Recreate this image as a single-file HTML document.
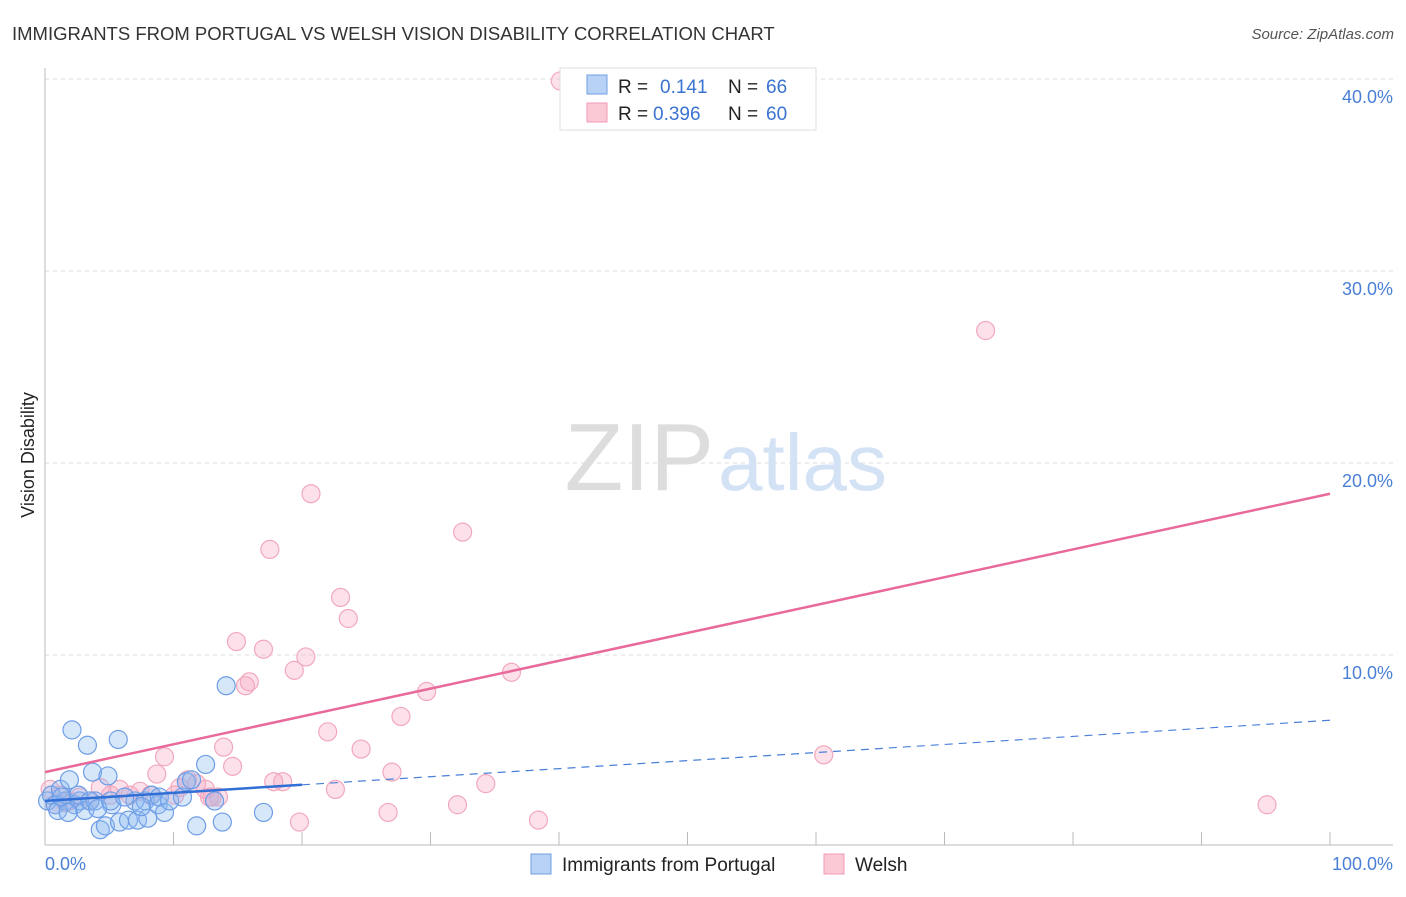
<!DOCTYPE html>
<html><head><meta charset="utf-8"><style>
body{margin:0;background:#fff;font-family:"Liberation Sans",sans-serif;}
svg text{font-family:"Liberation Sans",sans-serif;}
</style></head><body>
<svg width="1406" height="892" xmlns="http://www.w3.org/2000/svg">
<text x="12" y="40" font-size="18.5" fill="#333">IMMIGRANTS FROM PORTUGAL VS WELSH VISION DISABILITY CORRELATION CHART</text>
<text x="1394" y="39" font-size="15" fill="#555" font-style="italic" text-anchor="end">Source: ZipAtlas.com</text>
<g id="grid"></g>
<text x="714" y="490" font-size="96" fill="#ddd" font-family="Liberation Serif" text-anchor="end">ZIP</text>
<text x="718" y="490" font-size="80" fill="#d4e2f5">atlas</text>
<g id="axes"></g>
<g id="pts"></g>
<g id="lines"></g>
<text transform="translate(34,455) rotate(-90)" font-size="18" fill="#222" text-anchor="middle">Vision Disability</text>
<text x="45" y="870" font-size="18" fill="#4a7fd6">0.0%</text>
<text x="1393" y="870" font-size="18" fill="#4a7fd6" text-anchor="end">100.0%</text>
<g>
<rect x="560" y="68" width="256" height="62" fill="#fff" stroke="#ddd"/>
<rect x="587" y="75" width="20" height="19" fill="#b8d2f6" stroke="#6f9fe3"/>
<rect x="587" y="103" width="20" height="19" fill="#fbc8d6" stroke="#f09ab4"/>
<text x="618" y="93" font-size="19" fill="#222">R = </text><text x="660" y="93" font-size="19" fill="#3a73d0">0.141</text>
<text x="728" y="93" font-size="19" fill="#222">N = </text><text x="766" y="93" font-size="19" fill="#3a73d0">66</text>
<text x="618" y="120" font-size="19" fill="#222">R = </text><text x="653" y="120" font-size="19" fill="#3a73d0">0.396</text>
<text x="728" y="120" font-size="19" fill="#222">N = </text><text x="766" y="120" font-size="19" fill="#3a73d0">60</text>
</g>
<g>
<rect x="531" y="854" width="20" height="20" fill="#b8d2f6" stroke="#6f9fe3"/>
<text x="562" y="871" font-size="19" fill="#222">Immigrants from Portugal</text>
<rect x="824" y="854" width="20" height="20" fill="#fbc8d6" stroke="#f09ab4"/>
<text x="855" y="871" font-size="19" fill="#222">Welsh</text>
</g>
</svg>
<script>
const blueX=[0.2,0.5,0.8,1.2,1.6,1.9,2.1,2.3,2.7,3.1,3.3,3.7,3.9,4.3,4.7,4.9,5.2,5.7,5.8,6.5,7.0,7.2,7.8,8.0,8.3,8.8,8.9,9.3,9.7,10.7,11.0,11.4,11.8,12.5,13.2,13.8,14.1,17.0,1.0,1.3,1.8,2.6,3.5,4.1,5.1,6.2,7.5];
const blueY=[2.4,2.7,2.2,3.0,2.4,3.5,6.1,2.2,2.4,1.9,5.3,3.9,2.4,0.9,1.1,3.7,2.2,5.6,1.3,1.4,2.4,1.4,2.4,1.5,2.7,2.2,2.6,1.8,2.4,2.6,3.4,3.5,1.1,4.3,2.4,1.3,8.4,1.8,1.9,2.6,1.8,2.7,2.4,2.0,2.4,2.6,2.1];
const pinkX=[40.1,73.2,20.7,32.5,17.5,23.0,23.6,14.9,17.0,20.3,19.4,36.3,15.9,15.6,29.7,27.7,22.0,13.9,9.3,24.6,60.6,14.6,27.0,8.7,34.3,17.8,18.5,22.6,32.1,95.1,26.7,19.8,38.4,13.0,13.5,11.8,11.1,5.8,6.6,7.4,4.3,5.1,1.2,1.9,0.4,2.7,3.5,8.2,10.1,10.5,12.5,12.8,0.8,1.6];
const pinkY=[39.9,26.9,18.4,16.4,15.5,13.0,11.9,10.7,10.3,9.9,9.2,9.1,8.6,8.4,8.1,6.8,6.0,5.2,4.7,5.1,4.8,4.2,3.9,3.8,3.3,3.4,3.4,3.0,2.2,2.2,1.8,1.3,1.4,2.6,2.6,3.3,3.5,3.0,2.7,2.9,3.1,2.7,2.7,2.4,3.0,2.6,2.4,2.7,2.7,3.1,3.0,2.6,2.2,2.3];
const yTicks=[10,20,30,40];
const yTickLabels=["10.0%","20.0%","30.0%","40.0%"];
const blueTrend=[2.4,0.042];
const pinkTrend=[3.9,0.145];
const NS="http://www.w3.org/2000/svg";
const X=v=>45+v*12.85, Y=v=>847-v*19.2;
function mk(t,a,p){const e=document.createElementNS(NS,t);for(const k in a)e.setAttribute(k,a[k]);p.appendChild(e);return e;}
const grid=document.getElementById('grid'),axes=document.getElementById('axes');
yTicks.forEach((t,i)=>{
 const l=mk('line',{x1:45,x2:1393,y1:Y(t),y2:Y(t),stroke:'#ddd','stroke-dasharray':'4,4'},grid);
 
 
 const tx=mk('text',{x:1393,y:Y(t)+24,'font-size':18,fill:'#4a7fd6','text-anchor':'end'},grid);
 tx.textContent=yTickLabels[i];
 
 
});
const ax=mk('line',{x1:45,x2:45,y1:68,y2:845,stroke:'#bbb'},axes);


const bx=mk('line',{x1:45,x2:1393,y1:845,y2:845,stroke:'#bbb'},axes);


for(let i=1;i<=10;i++){
 const t=mk('line',{x1:X(i*10),x2:X(i*10),y1:832,y2:845,stroke:'#bbb'},axes);
 
 
}
const pts=document.getElementById('pts');
pinkX.forEach((x,i)=>{
 const c=mk('circle',{cx:X(x),cy:Y(pinkY[i]),r:9,fill:'rgba(245,165,190,0.33)',stroke:'#f2a8bd','stroke-width':1.2},pts);
 
 
});
blueX.forEach((x,i)=>{
 const c=mk('circle',{cx:X(x),cy:Y(blueY[i]),r:9,fill:'rgba(140,185,240,0.35)',stroke:'#6d9de6','stroke-width':1.2},pts);
 
 
});
const L=document.getElementById('lines');
const pl=mk('line',{x1:X(0),y1:Y(pinkTrend[0]),x2:X(100),y2:Y(pinkTrend[0]+100*pinkTrend[1]),stroke:'#e8699a','stroke-width':2.5},L);


const bs=mk('line',{x1:X(0),y1:Y(blueTrend[0]),x2:X(20),y2:Y(blueTrend[0]+20*blueTrend[1]),stroke:'#2f6fd6','stroke-width':2.5},L);


const bd=mk('line',{x1:X(20),y1:Y(blueTrend[0]+20*blueTrend[1]),x2:X(100),y2:Y(blueTrend[0]+100*blueTrend[1]),stroke:'#4a80d8','stroke-width':1.2,'stroke-dasharray':'8,6'},L);


</script>
</body></html>
